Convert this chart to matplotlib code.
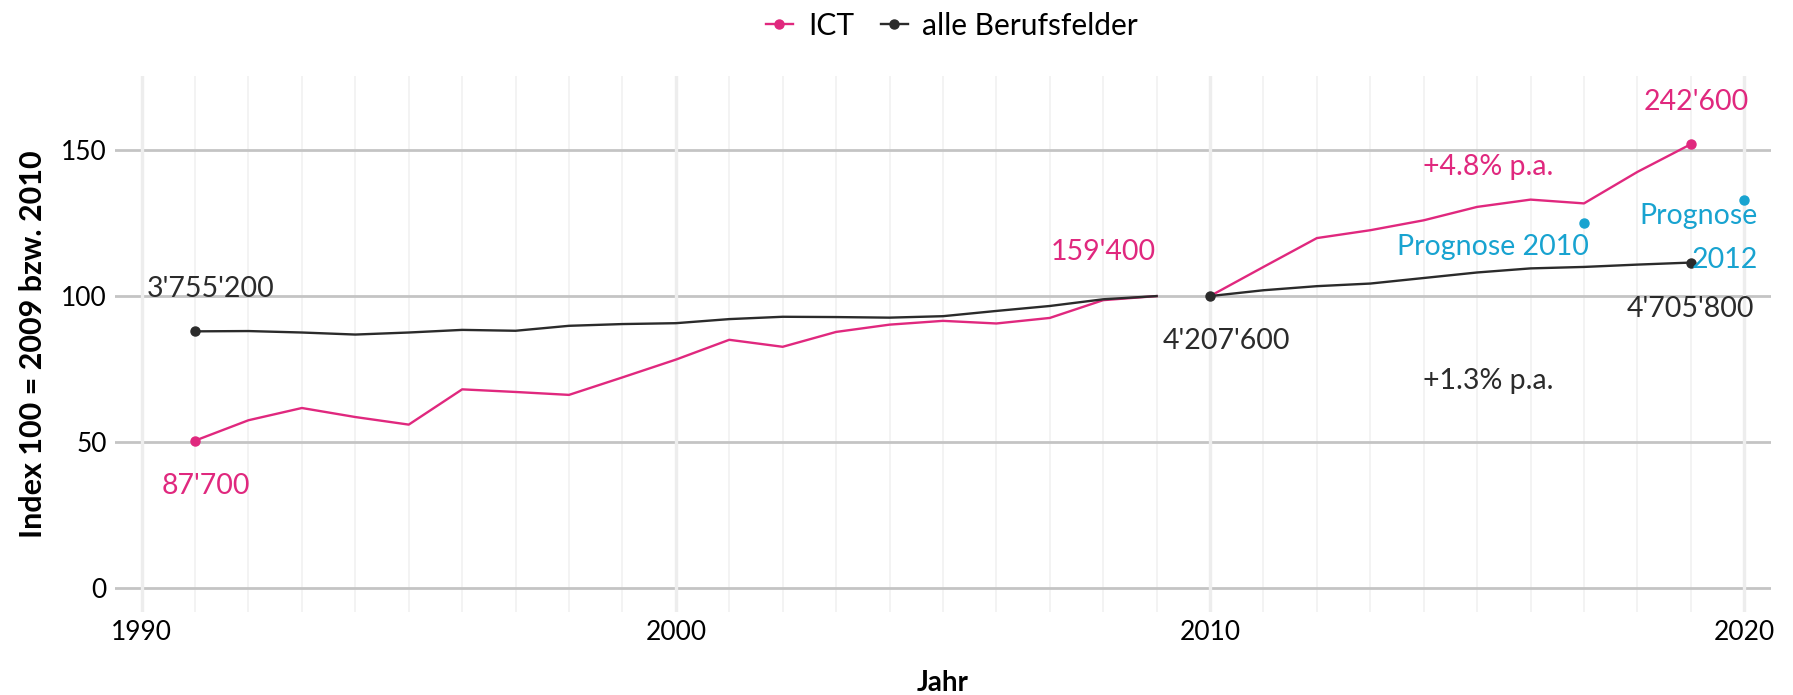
import matplotlib
matplotlib.use("Agg")
import matplotlib.pyplot as plt
from matplotlib.lines import Line2D

plt.rcParams['font.family'] = ['Lato', 'DejaVu Sans']

PINK = '#E0287E'
DARK = '#2B2B2B'
BLUE = '#18A3D0'

# data, index 100 = 2009 (first period) and 2010 (second period)
years_a = list(range(1991, 2010))
ict_a = [50.4, 57.4, 61.6, 58.5, 55.9, 68.0, 67.1, 66.1, 72.1, 78.2,
         85.0, 82.6, 87.7, 90.2, 91.5, 90.6, 92.5, 98.6, 100.0]
alle_a = [87.9, 88.0, 87.5, 86.8, 87.5, 88.4, 88.1, 89.8, 90.4, 90.7,
          92.1, 92.9, 92.8, 92.6, 93.1, 94.9, 96.6, 98.9, 100.0]

years_b = list(range(2010, 2020))
ict_b = [100.0, 110.0, 119.9, 122.6, 126.0, 130.6, 133.1, 131.8, 142.6, 152.1]
alle_b = [100.0, 102.0, 103.4, 104.3, 106.2, 108.1, 109.5, 110.0, 110.8, 111.5]

prog_years = [2017, 2020]
prog_vals = [125.2, 133.1]

# annotations: text, x, y, colour, horizontal alignment
labels = [
    ("3'755'200", 1991.3, 102.4, DARK, 'center'),
    ("87'700", 1991.2, 35.0, PINK, 'center'),
    ("159'400", 2008.0, 115.2, PINK, 'center'),
    ("4'207'600", 2010.3, 84.6, DARK, 'center'),
    ("+4.8% p.a.", 2015.2, 144.3, PINK, 'center'),
    ("+1.3% p.a.", 2015.2, 70.9, DARK, 'center'),
    ("242'600", 2019.1, 166.6, PINK, 'center'),
    ("4'705'800", 2019.0, 95.6, DARK, 'center'),
    ("Prognose 2010", 2015.3, 116.8, BLUE, 'center'),
    ("Prognose\n2012", 2020.25, 119.8, BLUE, 'right'),
]

fig = plt.figure(figsize=(17.93, 6.95), dpi=100)
ax = fig.add_axes([0.0641, 0.1194, 0.9236, 0.7712])

# grid
for yr in range(1990, 2021):
    if yr % 10:
        ax.axvline(yr, color='#F0F0F0', lw=1.1, zorder=0.2)
for yv in [0, 50, 100, 150]:
    ax.axhline(yv, color='#C4C4C4', lw=2.0, zorder=0.5)
for yr in [1990, 2000, 2010, 2020]:
    ax.axvline(yr, color='#EDEDED', lw=2.4, zorder=0.6)

ax.plot(years_a, ict_a, color=PINK, lw=1.7, zorder=2)
ax.plot(years_b, ict_b, color=PINK, lw=1.7, zorder=2)
ax.plot(years_a, alle_a, color=DARK, lw=1.7, zorder=2.1)
ax.plot(years_b, alle_b, color=DARK, lw=1.7, zorder=2.1)

ax.plot([years_a[0], years_b[-1]], [ict_a[0], ict_b[-1]], 'o', color=PINK, ms=6.5, zorder=3)
ax.plot([years_a[0], years_b[0], years_b[-1]], [alle_a[0], alle_b[0], alle_b[-1]],
        'o', color=DARK, ms=6.5, zorder=3)
ax.plot(prog_years, prog_vals, 'o', color=BLUE, ms=6.5, zorder=3)

for txt, x, y, c, ha in labels:
    ax.text(x, y, txt, color=c, ha=ha, va='center', fontsize=20.5,
            multialignment=ha, linespacing=1.85)

ax.set_xlim(1989.5, 2020.5)
ax.set_ylim(-8.4, 175.5)
ax.set_xticks([1990, 2000, 2010, 2020])
ax.set_yticks([0, 50, 100, 150])
ax.tick_params(length=0, labelsize=19, colors='black', pad=6)
for s in ax.spines.values():
    s.set_visible(False)

ax.set_xlabel('Jahr', fontsize=20, fontweight='bold', labelpad=18)
ax.set_ylabel('Index 100 = 2009 bzw. 2010', fontsize=22, fontweight='bold', labelpad=10)

handles = [
    Line2D([], [], color=PINK, lw=1.7, marker='o', ms=6.5),
    Line2D([], [], color=DARK, lw=1.7, marker='o', ms=6.5),
]
fig.legend(handles, ['ICT', 'alle Berufsfelder'], loc='center', bbox_to_anchor=(0.531, 0.963),
           ncol=2, frameon=False, fontsize=21.5, handlelength=0.9, columnspacing=0.9,
           handletextpad=0.5)

fig.savefig('out.png', dpi=100)
